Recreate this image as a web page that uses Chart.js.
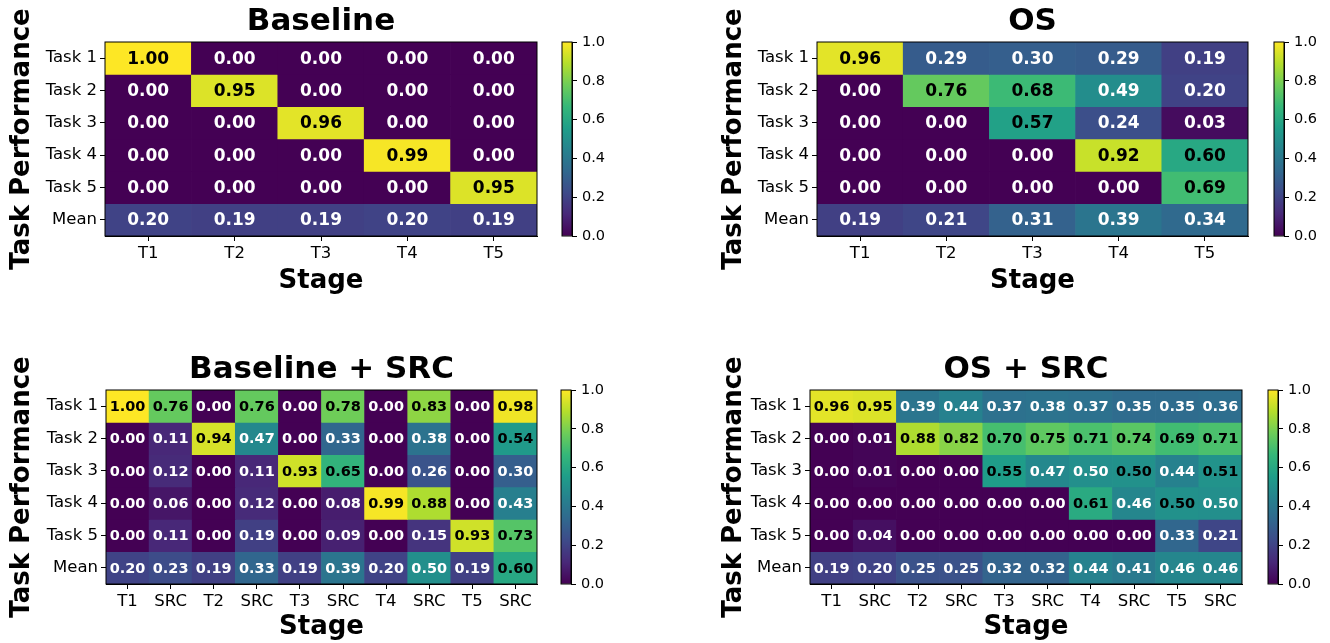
<!DOCTYPE html>
<html>
<head>
<meta charset="utf-8">
<script src="https://cdn.jsdelivr.net/npm/chart.js@4.4.0/dist/chart.umd.min.js"></script>
<style>
  html, body { margin: 0; padding: 0; background: #fff; }
  #wrap { position: relative; width: 1330px; height: 643px; overflow: hidden; }
  #wrap canvas { position: absolute; }
</style>
</head>
<body>
<div id="wrap"></div>
<script>
// ---- data ----
const rowLabels = ['Task 1', 'Task 2', 'Task 3', 'Task 4', 'Task 5', 'Mean'];
const stageLabels = ['T1', 'T2', 'T3', 'T4', 'T5'];
const srcStageLabels = ['T1', 'SRC', 'T2', 'SRC', 'T3', 'SRC', 'T4', 'SRC', 'T5', 'SRC'];
const colorbarTicks = [0.0, 0.2, 0.4, 0.6, 0.8, 1.0];

const baselineVals = [
  [1.00, 0.00, 0.00, 0.00, 0.00],
  [0.00, 0.95, 0.00, 0.00, 0.00],
  [0.00, 0.00, 0.96, 0.00, 0.00],
  [0.00, 0.00, 0.00, 0.99, 0.00],
  [0.00, 0.00, 0.00, 0.00, 0.95],
  [0.20, 0.19, 0.19, 0.20, 0.19]
];
const osVals = [
  [0.96, 0.29, 0.30, 0.29, 0.19],
  [0.00, 0.76, 0.68, 0.49, 0.20],
  [0.00, 0.00, 0.57, 0.24, 0.03],
  [0.00, 0.00, 0.00, 0.92, 0.60],
  [0.00, 0.00, 0.00, 0.00, 0.69],
  [0.19, 0.21, 0.31, 0.39, 0.34]
];
const baselineSrcVals = [
  [1.00, 0.76, 0.00, 0.76, 0.00, 0.78, 0.00, 0.83, 0.00, 0.98],
  [0.00, 0.11, 0.94, 0.47, 0.00, 0.33, 0.00, 0.38, 0.00, 0.54],
  [0.00, 0.12, 0.00, 0.11, 0.93, 0.65, 0.00, 0.26, 0.00, 0.30],
  [0.00, 0.06, 0.00, 0.12, 0.00, 0.08, 0.99, 0.88, 0.00, 0.43],
  [0.00, 0.11, 0.00, 0.19, 0.00, 0.09, 0.00, 0.15, 0.93, 0.73],
  [0.20, 0.23, 0.19, 0.33, 0.19, 0.39, 0.20, 0.498, 0.19, 0.60]
];
const osSrcVals = [
  [0.96, 0.95, 0.39, 0.44, 0.37, 0.38, 0.37, 0.35, 0.35, 0.36],
  [0.00, 0.01, 0.88, 0.82, 0.70, 0.75, 0.71, 0.74, 0.69, 0.71],
  [0.00, 0.01, 0.00, 0.00, 0.55, 0.47, 0.498, 0.502, 0.44, 0.51],
  [0.00, 0.00, 0.00, 0.00, 0.00, 0.00, 0.61, 0.46, 0.502, 0.498],
  [0.00, 0.04, 0.00, 0.00, 0.00, 0.00, 0.00, 0.00, 0.33, 0.21],
  [0.19, 0.20, 0.25, 0.25, 0.32, 0.32, 0.44, 0.41, 0.46, 0.46]
];

// viridis, sampled at i/9
const viridisStops = ['#440154', '#482878', '#3e4a89', '#31688e', '#26828e',
                      '#1f9e89', '#35b779', '#6dcd59', '#b4de2c', '#fde725'];

const FONT = "'DejaVu Sans', sans-serif";

function hexToRgb(h) {
  return [1, 3, 5].map(i => parseInt(h.slice(i, i + 2), 16));
}

function viridis(v) {
  const t = Math.min(1, Math.max(0, v)) * 9;
  const i = Math.min(8, Math.floor(t));
  const f = t - i;
  const a = hexToRgb(viridisStops[i]);
  const b = hexToRgb(viridisStops[i + 1]);
  const c = a.map((x, k) => Math.round(x + (b[k] - x) * f));
  return `rgb(${c[0]},${c[1]},${c[2]})`;
}

// layout of the four panels (canvas box + wanted plot area)
const panels = [
  { title: 'Baseline', cols: stageLabels, values: baselineVals, cellFont: 17,
    box: { x: 0, y: 0, w: 545, h: 300 }, area: { l: 105, t: 42, r: 537, b: 236 },
    cbar: { l: 562, r: 572 }, stagePad: 3 },
  { title: 'OS', cols: stageLabels, values: osVals, cellFont: 17,
    box: { x: 712, y: 0, w: 541, h: 300 }, area: { l: 817, t: 42, r: 1248, b: 236 },
    cbar: { l: 1274, r: 1284 }, stagePad: 3 },
  { title: 'Baseline + SRC', cols: srcStageLabels, values: baselineSrcVals, cellFont: 14.5,
    box: { x: 0, y: 320, w: 545, h: 323 }, area: { l: 106, t: 390, r: 537, b: 584 },
    cbar: { l: 561, r: 571 }, stagePad: 0 },
  { title: 'OS + SRC', cols: srcStageLabels, values: osSrcVals, cellFont: 14.5,
    box: { x: 712, y: 320, w: 535, h: 323 }, area: { l: 810, t: 390, r: 1242, b: 584 },
    cbar: { l: 1268, r: 1278 }, stagePad: 0 }
];

// black outline round the plot area
const framePlugin = {
  id: 'frame',
  afterDraw(chart) {
    const a = chart.chartArea;
    const ctx = chart.ctx;
    ctx.save();
    ctx.strokeStyle = '#000';
    ctx.lineWidth = 1;
    ctx.strokeRect(a.left, a.top, a.right - a.left, a.bottom - a.top);
    ctx.restore();
  }
};

// value text in every cell
const cellTextPlugin = {
  id: 'cellText',
  afterDatasetsDraw(chart, args, opts) {
    const ctx = chart.ctx;
    ctx.save();
    ctx.font = `bold ${opts.size}px ${FONT}`;
    ctx.textAlign = 'center';
    ctx.textBaseline = 'middle';
    chart.data.datasets.forEach((ds, i) => {
      chart.getDatasetMeta(i).data.forEach((bar, j) => {
        const v = ds.cellValues[j];
        ctx.fillStyle = v >= 0.5 ? '#000' : '#fff';
        ctx.fillText(v.toFixed(2), bar.x, (bar.y + bar.base) / 2 + 1);
      });
    });
    ctx.restore();
  }
};

function makeCanvas(box) {
  const c = document.createElement('canvas');
  c.width = box.w;
  c.height = box.h;
  c.style.left = box.x + 'px';
  c.style.top = box.y + 'px';
  c.style.width = box.w + 'px';
  c.style.height = box.h + 'px';
  document.getElementById('wrap').appendChild(c);
  return c;
}

function drawHeatmap(p) {
  const titleLine = 31 * 1.2;
  const titleGap = 1.4;
  const canvas = makeCanvas(p.box);
  new Chart(canvas, {
    type: 'bar',
    data: {
      labels: p.cols,
      datasets: rowLabels.map((r, i) => ({
        label: r,
        data: p.cols.map(() => 1),
        cellValues: p.values[i],
        backgroundColor: p.values[i].map(viridis),
        borderWidth: 0,
        barPercentage: 1,
        categoryPercentage: 1
      }))
    },
    options: {
      responsive: false,
      animation: false,
      events: [],
      layout: {
        padding: {
          left: 0,
          right: p.box.x + p.box.w - p.area.r,
          top: p.area.t - p.box.y - titleLine - titleGap,
          bottom: 0
        }
      },
      plugins: {
        legend: { display: false },
        tooltip: { enabled: false },
        title: {
          display: true,
          text: p.title,
          fullSize: false,
          color: '#000',
          font: { family: FONT, size: 31, weight: 'bold', lineHeight: 1.2 },
          padding: { top: 0, bottom: titleGap }
        },
        cellText: { size: p.cellFont }
      },
      scales: {
        x: {
          stacked: true,
          grid: { drawOnChartArea: false, offset: false, tickLength: 5, color: '#000' },
          border: { color: '#000' },
          ticks: { color: '#000', font: { family: FONT, size: 16.5 }, padding: 3,
                   maxRotation: 0, autoSkip: false },
          title: { display: true, text: 'Stage', color: '#000',
                   font: { family: FONT, size: 26, weight: 'bold', lineHeight: 1.2 },
                   padding: { top: 0, bottom: p.stagePad } },
          afterFit: s => { s.height = p.box.y + p.box.h - p.area.b; }
        },
        y: {
          stacked: true,
          reverse: true,
          min: 0,
          max: rowLabels.length,
          afterBuildTicks: s => { s.ticks = rowLabels.map((_, i) => ({ value: i + 0.5 })); },
          grid: { drawOnChartArea: false, tickLength: 5, color: '#000' },
          border: { color: '#000' },
          ticks: { color: '#000', font: { family: FONT, size: 16.5 }, padding: 3,
                   callback: v => rowLabels[Math.floor(v)] },
          title: { display: true, text: 'Task Performance', color: '#000',
                   font: { family: FONT, size: 26, weight: 'bold', lineHeight: 1.2 },
                   padding: { top: 6.4, bottom: 0 } },
          afterFit: s => { s.width = p.area.l - p.box.x; }
        }
      }
    },
    plugins: [framePlugin, cellTextPlugin]
  });
}

function drawColorbar(p) {
  const box = { x: p.cbar.l - 2, y: p.box.y, w: 56, h: p.box.h };
  const canvas = makeCanvas(box);
  new Chart(canvas, {
    type: 'bar',
    data: {
      labels: [''],
      datasets: [{
        data: [colorbarTicks[colorbarTicks.length - 1]],
        borderWidth: 0,
        barPercentage: 1,
        categoryPercentage: 1,
        backgroundColor: ctx => {
          const a = ctx.chart.chartArea;
          if (!a) return viridis(0.5);
          const g = ctx.chart.ctx.createLinearGradient(0, a.bottom, 0, a.top);
          viridisStops.forEach((c, i) => g.addColorStop(i / 9, c));
          return g;
        }
      }]
    },
    options: {
      responsive: false,
      animation: false,
      events: [],
      layout: {
        padding: { left: 2, right: 0, top: p.area.t - box.y, bottom: box.y + box.h - p.area.b }
      },
      plugins: { legend: { display: false }, tooltip: { enabled: false } },
      scales: {
        x: { display: false },
        y: {
          position: 'right',
          min: colorbarTicks[0],
          max: colorbarTicks[colorbarTicks.length - 1],
          afterBuildTicks: s => { s.ticks = colorbarTicks.map(v => ({ value: v })); },
          grid: { drawOnChartArea: false, tickLength: 5, color: '#000' },
          border: { color: '#000' },
          ticks: { color: '#000', font: { family: FONT, size: 14.5 }, padding: 5,
                   callback: v => v.toFixed(1) },
          afterFit: s => { s.width = box.w - 2 - (p.cbar.r - p.cbar.l); }
        }
      }
    },
    plugins: [framePlugin]
  });
}

panels.forEach(p => {
  drawHeatmap(p);
  drawColorbar(p);
});
</script>
</body>
</html>
